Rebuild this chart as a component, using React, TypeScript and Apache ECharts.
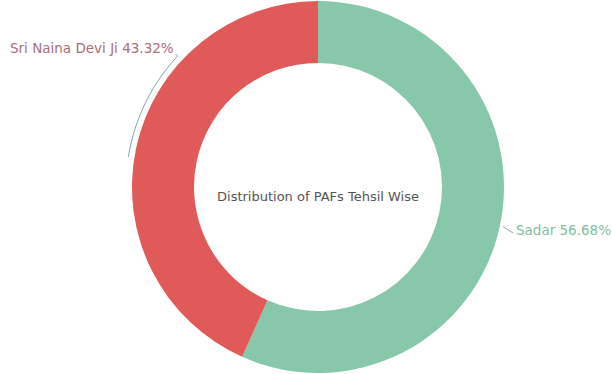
import React, { useEffect, useRef } from "react";
import * as echarts from "echarts";

const categories = ["Sadar", "Sri Naina Devi Ji"];
const values = [56.68, 43.32];
const colors = ["#88c8aa", "#e05a5a"];
const labelColors = ["#7fbf9f", "#a8707c"];
const centerTitle = "Distribution of PAFs Tehsil Wise";

const CX = 318;
const CY = 187;
const R_IN = 124;
const R_OUT = 186;

export default function App() {
  const ref = useRef<HTMLDivElement>(null);
  useEffect(() => {
    const chart = echarts.init(ref.current!, null, { renderer: "svg" });
    const total = values.reduce((a, b) => a + b, 0);
    // mid angle (math convention, degrees) of each slice, start at top, clockwise
    const midAngles: number[] = [];
    let acc = 0;
    values.forEach((v) => {
      const midFrac = (acc + v / 2) / total;
      midAngles.push(90 - midFrac * 360);
      acc += v;
    });
    const pt = (deg: number, r: number) => {
      const a = (deg * Math.PI) / 180;
      return [CX + r * Math.cos(a), CY - r * Math.sin(a)];
    };
    chart.setOption({
      animation: false,
      backgroundColor: "#ffffff",
      graphic: [
        {
          type: "text",
          x: CX,
          y: 196,
          style: {
            text: centerTitle,
            fill: "#555555",
            font: "13px 'DejaVu Sans', sans-serif",
            align: "center",
            verticalAlign: "middle",
          },
        },
      ],
      series: [
        {
          type: "pie",
          center: [CX, CY],
          radius: [R_IN, R_OUT],
          startAngle: 90,
          clockwise: true,
          data: categories.map((c, i) => ({
            name: c,
            value: values[i],
            itemStyle: { color: colors[i] },
            label: { color: labelColors[i] },
          })),
          label: {
            show: true,
            formatter: (p: any) => `${p.name} ${p.value.toFixed(2)}%`,
            fontSize: 13.5,
            fontFamily: "'DejaVu Sans', sans-serif",
            overflow: "none",
          },
          labelLine: {
            show: true,
            smooth: false,
            lineStyle: { color: "#8aa6ab", width: 1 },
          },
          labelLayout: (p: any) => {
            if (p.dataIndex === 1) {
              const x = 10;
              const y = 48;
              const w = p.labelRect.width;
              const pts: number[][] = [];
              const a0 = 360 + midAngles[1] + 3;
              const a1 = 137;
              for (let k = 0; k <= 14; k++) {
                const a = a0 + ((a1 - a0) * k) / 14;
                pts.push(pt(a, R_OUT + 6));
              }
              pts.push([x + w + 2, y + 6]);
              return {
                x,
                y,
                align: "left",
                verticalAlign: "middle",
                labelLinePoints: pts,
              };
            }
            const x = 612 - p.labelRect.width - 1;
            const y = 230;
            return {
              x,
              y,
              align: "left",
              verticalAlign: "middle",
              labelLinePoints: [pt(midAngles[0], R_OUT + 3), [x - 3, y + 3]],
            };
          },
        },
      ],
    });
    return () => chart.dispose();
  }, []);
  return (
    <div
      ref={ref}
      style={{ position: "fixed", left: 0, top: 0, width: 612, height: 374 }}
    />
  );
}
